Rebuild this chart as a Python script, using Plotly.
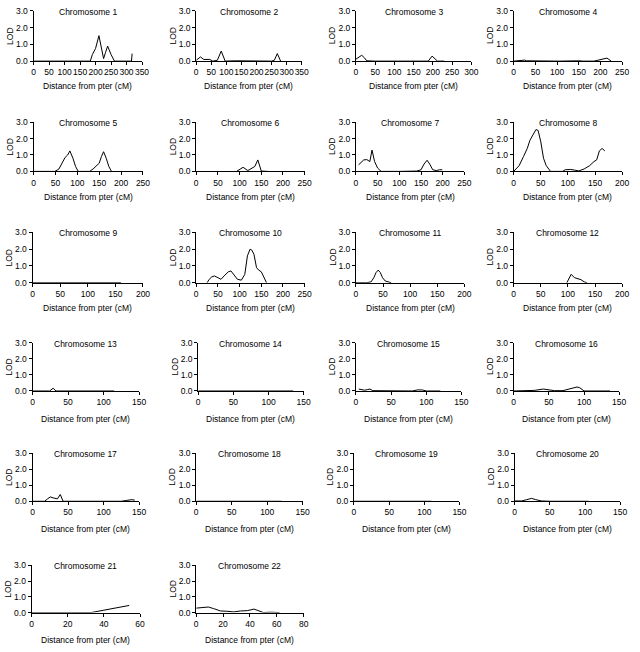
import plotly.graph_objects as go

# ---------------- data ----------------
chrom_names = [f"Chromosome {i}" for i in range(1, 23)]

chr1_cm = [0, 50, 100, 150, 183, 190, 200, 211, 218, 226, 232, 239, 250, 261, 290, 316, 318]
chr1_lod = [0, 0, 0, 0, 0, 0.4, 0.75, 1.52, 0.9, 0.15, 0.5, 0.9, 0.4, 0, 0, 0, 0.45]

chr2_cm = [0, 14, 25, 45, 55, 70, 83, 96, 130, 250, 259, 269, 280]
chr2_lod = [0.05, 0.25, 0.1, 0.1, 0.0, 0.05, 0.6, 0, 0.02, 0, 0.05, 0.45, 0]

chr3_cm = [0, 7, 15, 22, 28, 50, 100, 150, 188, 198, 205, 212, 230]
chr3_lod = [0.12, 0.22, 0.35, 0.2, 0.02, 0, 0, 0, 0, 0.3, 0.15, 0, 0]

chr4_cm = [0, 20, 25, 30, 80, 92, 105, 150, 160, 185, 200, 215, 225]
chr4_lod = [0, 0.02, 0.06, 0.02, 0, 0.03, 0, 0.02, 0, 0, 0.1, 0.18, 0]

chr5_cm = [0, 15, 49, 58, 66, 72, 78, 83, 90, 96, 102, 128, 136, 143, 150, 155, 160, 166, 172, 178]
chr5_lod = [0, 0, 0, 0.15, 0.55, 0.85, 1.0, 1.25, 0.8, 0.3, 0, 0, 0.15, 0.35, 0.5, 0.9, 1.2, 0.8, 0.3, 0]

chr6_cm = [93, 100, 108, 119, 128, 135, 142, 150, 165]
chr6_lod = [0, 0.1, 0.25, 0.05, 0.2, 0.3, 0.7, 0.02, 0]

chr7_cm = [6, 12, 18, 25, 32, 37, 43, 50, 58, 100, 140, 150, 157, 164, 170, 177, 185, 193, 199]
chr7_lod = [0.4, 0.55, 0.7, 0.72, 0.6, 1.3, 0.6, 0.2, 0, 0, 0.02, 0.1, 0.45, 0.68, 0.45, 0.1, 0.05, 0.1, 0.1]

chr8_cm = [0, 5, 10, 18, 25, 30, 35, 41, 45, 50, 55, 60, 68, 90, 95, 105, 112, 120, 130, 140, 148, 153, 158, 163, 168]
chr8_lod = [0, 0.15, 0.35, 0.9, 1.4, 1.9, 2.2, 2.55, 2.5, 1.8, 0.8, 0.35, 0, 0, 0.1, 0.12, 0.08, 0.03, 0.15, 0.35, 0.6, 0.7, 1.25, 1.4, 1.25]

chr9_cm = [0, 140, 150, 160]
chr9_lod = [0, 0, 0.02, 0]

chr10_cm = [25, 30, 36, 42, 50, 57, 66, 74, 80, 88, 95, 104, 112, 118, 124, 128, 133, 139, 144, 150, 156, 162]
chr10_lod = [0, 0.2, 0.35, 0.4, 0.3, 0.2, 0.45, 0.65, 0.7, 0.4, 0.2, 0.15, 0.5, 1.6, 2.0, 1.95, 1.7, 0.9, 0.75, 0.65, 0.3, 0]

chr11_cm = [0, 20, 28, 33, 37, 41, 45, 49, 54, 60, 65]
chr11_lod = [0, 0, 0.05, 0.3, 0.6, 0.75, 0.6, 0.3, 0.1, 0.03, 0]

chr12_cm = [98, 102, 106, 112, 118, 124, 130, 135]
chr12_lod = [0, 0.3, 0.5, 0.3, 0.22, 0.18, 0.05, 0]

chr13_cm = [0, 24, 29, 33, 115]
chr13_lod = [0, 0, 0.17, 0, 0]

chr14_cm = [0, 135]
chr14_lod = [0, 0]

chr15_cm = [4, 8, 12, 16, 20, 24, 50, 80, 88, 95, 100, 120]
chr15_lod = [0.12, 0.1, 0.05, 0.08, 0.12, 0.02, 0, 0, 0.07, 0.06, 0, 0]

chr16_cm = [0, 15, 30, 42, 50, 58, 70, 80, 90, 94, 100, 137]
chr16_lod = [0, 0.02, 0.04, 0.12, 0.08, 0.02, 0.02, 0.12, 0.25, 0.2, 0, 0]

chr17_cm = [0, 17, 21, 25, 30, 35, 39, 43, 60, 125, 132, 140, 144]
chr17_lod = [0, 0, 0.15, 0.27, 0.2, 0.15, 0.42, 0, 0, 0, 0.05, 0.1, 0.07]

chr18_cm = [0, 110, 120]
chr18_lod = [0, 0.01, 0]

chr19_cm = [0, 110]
chr19_lod = [0, 0]

chr20_cm = [0, 10, 17, 24, 30, 38, 50, 105]
chr20_lod = [0.02, 0.02, 0.1, 0.18, 0.1, 0.02, 0, 0]

chr21_cm = [0, 20, 33, 40, 47, 54]
chr21_lod = [0, 0, 0, 0.15, 0.3, 0.45]

chr22_cm = [0, 5, 9, 13, 18, 23, 28, 33, 38, 43, 47, 50, 55, 62]
chr22_lod = [0.28, 0.33, 0.35, 0.25, 0.1, 0.08, 0.04, 0.1, 0.12, 0.22, 0.08, 0, 0.02, 0]

x_max = [350, 350, 300, 250, 250, 250, 250, 200, 200, 250, 200, 200,
         150, 150, 150, 150, 150, 150, 150, 150, 60, 80]
x_step = [50] * 20 + [20, 20]
lod_ticks = [0, 1, 2, 3]
lod_labels = ["0.0", "1.0", "2.0", "3.0"]
x_title = "Distance from pter (cM)"
y_title = "LOD"

series_cm = [chr1_cm, chr2_cm, chr3_cm, chr4_cm, chr5_cm, chr6_cm, chr7_cm, chr8_cm,
             chr9_cm, chr10_cm, chr11_cm, chr12_cm, chr13_cm, chr14_cm, chr15_cm, chr16_cm,
             chr17_cm, chr18_cm, chr19_cm, chr20_cm, chr21_cm, chr22_cm]
series_lod = [chr1_lod, chr2_lod, chr3_lod, chr4_lod, chr5_lod, chr6_lod, chr7_lod, chr8_lod,
              chr9_lod, chr10_lod, chr11_lod, chr12_lod, chr13_lod, chr14_lod, chr15_lod, chr16_lod,
              chr17_lod, chr18_lod, chr19_lod, chr20_lod, chr21_lod, chr22_lod]

# ---------------- layout (pixels) ----------------
W, H = 640, 652
px_x = [(32, 142), (197, 304), (359, 476), (519, 629),
        (32, 143), (197, 307), (359, 469), (519, 629),
        (31, 143), (197, 307), (359, 469), (519, 629),
        (31, 139), (199, 306), (359, 466), (519, 626),
        (31, 139), (197, 305), (357, 464), (520, 627),
        (30, 140), (197, 306)]
rows_px = [(6, 57), (119, 169), (231, 282), (343, 392), (455, 504), (569, 617)]
xlab_off = [25, 26, 26, 28, 28, 28]

FONT = "Arial, Liberation Sans, sans-serif"
FS = 8.5
fig = go.Figure()
layout = dict(width=W, height=H, margin=dict(l=0, r=0, t=0, b=0),
              paper_bgcolor="white", plot_bgcolor="white", showlegend=False,
              font=dict(family=FONT, size=FS, color="black"))
annotations = []

for i in range(22):
    r = i // 4
    x0, x1 = px_x[i]
    top, bot = rows_px[r]
    k = "" if i == 0 else str(i + 1)
    fig.add_trace(go.Scatter(x=series_cm[i], y=series_lod[i], mode="lines",
                             line=dict(color="black", width=1),
                             xaxis="x" + k, yaxis="y" + k, hoverinfo="skip"))
    common = dict(showline=True, linecolor="black", linewidth=1, ticks="outside",
                  ticklen=3, tickwidth=1, tickcolor="black", showgrid=False,
                  zeroline=False, tickfont=dict(family=FONT, size=FS, color="black"))
    layout["xaxis" + k] = dict(domain=[x0 / W, x1 / W], anchor="y" + k, tickangle=0,
                               range=[0, x_max[i]], dtick=x_step[i], tick0=0, **common)
    layout["yaxis" + k] = dict(domain=[1 - bot / H, 1 - top / H], anchor="x" + k,
                               range=[0, 3], tickvals=lod_ticks, ticktext=lod_labels, **common)
    cx = (x0 + x1) / 2
    annotations.append(dict(text=chrom_names[i], x=cx / W, y=1 - (top + 1) / H,
                            xref="paper", yref="paper", showarrow=False,
                            xanchor="center", yanchor="middle",
                            font=dict(family=FONT, size=FS, color="black")))
    annotations.append(dict(text=y_title, x=(x0 - 24) / W, y=1 - ((top + bot) / 2) / H,
                            xref="paper", yref="paper", showarrow=False, textangle=-90,
                            xanchor="center", yanchor="middle",
                            font=dict(family=FONT, size=FS, color="black")))
    annotations.append(dict(text=x_title, x=cx / W, y=1 - (bot + xlab_off[r]) / H,
                            xref="paper", yref="paper", showarrow=False,
                            xanchor="center", yanchor="middle",
                            font=dict(family=FONT, size=FS, color="black")))

layout["annotations"] = annotations
fig.update_layout(**layout)
fig.write_html("out.html", config={"displayModeBar": False},
               post_script="document.body.style.margin='0px';")
